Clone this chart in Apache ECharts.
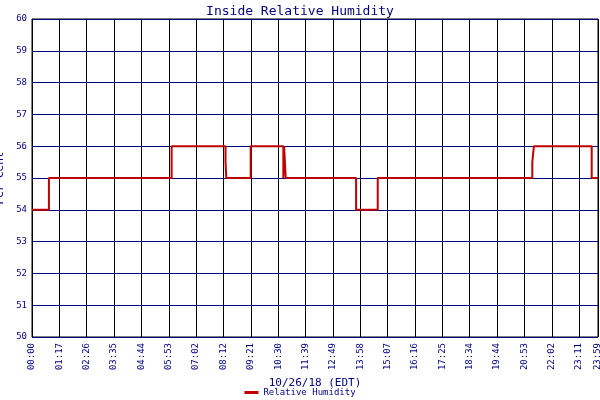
<!DOCTYPE html>
<html><head><meta charset="utf-8">
<script src="https://cdn.jsdelivr.net/npm/echarts@6/dist/echarts.min.js"></script>
<style>html,body{margin:0;padding:0;background:#fff}#c{width:600px;height:400px}</style>
</head><body><div id="c"></div>
<script>
// time in minutes since 00:00, humidity %
const times = [0, 43, 355, 492, 494, 556, 639, 641, 643, 645, 824, 879, 1272, 1276, 1423, 1439];
const values = [54, 55, 56, 55.5, 55, 56, 55, 56, 55.5, 55, 54, 55, 55.5, 56, 55, 55];
const xTickLabels = ['00:00','01:17','02:26','03:35','04:44','05:53','07:02','08:12','09:21','10:30','11:39','12:49','13:58','15:07','16:16','17:25','18:34','19:44','20:53','22:02','23:11'];
const xLastLabel = '23:59';
const yTicks = [50,51,52,53,54,55,56,57,58,59,60];
const step = 1391/20;
const font = 'DejaVu Sans Mono';
const chart = echarts.init(document.getElementById('c'));
chart.setOption({
  animation:false,
  title:{text:'Inside Relative Humidity',left:'center',top:0,textStyle:{color:'#000080',fontFamily:font,fontSize:13,fontWeight:'normal'}},
  legend:{bottom:-2,itemWidth:14,itemHeight:3,icon:'rect',textStyle:{color:'#000080',fontFamily:font,fontSize:9},data:['Relative Humidity']},
  grid:{left:32,right:2,top:19,bottom:63,containLabel:false,outerBoundsMode:'none',show:true,borderColor:'#000',borderWidth:1},
  xAxis:{type:'value',min:0,max:1439,interval:step,
    name:'10/26/18 (EDT)',nameLocation:'middle',nameGap:37,nameTextStyle:{color:'#000080',fontFamily:font,fontSize:11},
    axisLine:{show:false},axisTick:{show:false},
    axisLabel:{rotate:90,color:'#000080',fontFamily:font,fontSize:9,showMaxLabel:true,margin:6,
      formatter:v=> v>=1439 ? xLastLabel : (xTickLabels[Math.round(v/step)]||'')},
    splitLine:{show:true,lineStyle:{color:'#000',width:1}}},
  yAxis:{type:'value',min:yTicks[0],max:yTicks[yTicks.length-1],interval:1,
    name:'Per Cent',nameLocation:'middle',nameGap:20,nameTextStyle:{color:'#000080',fontFamily:font,fontSize:11},
    axisLine:{show:false},axisTick:{show:false},
    axisLabel:{color:'#000080',fontFamily:font,fontSize:9,margin:5},
    splitLine:{show:true,lineStyle:{color:'#000080',width:1}}},
  series:[{name:'Relative Humidity',type:'line',step:'end',showSymbol:false,
    data:times.map((t,i)=>[t,values[i]]),
    lineStyle:{color:'#c00000',width:2},itemStyle:{color:'#c00000'}}]
});
</script></body></html>
